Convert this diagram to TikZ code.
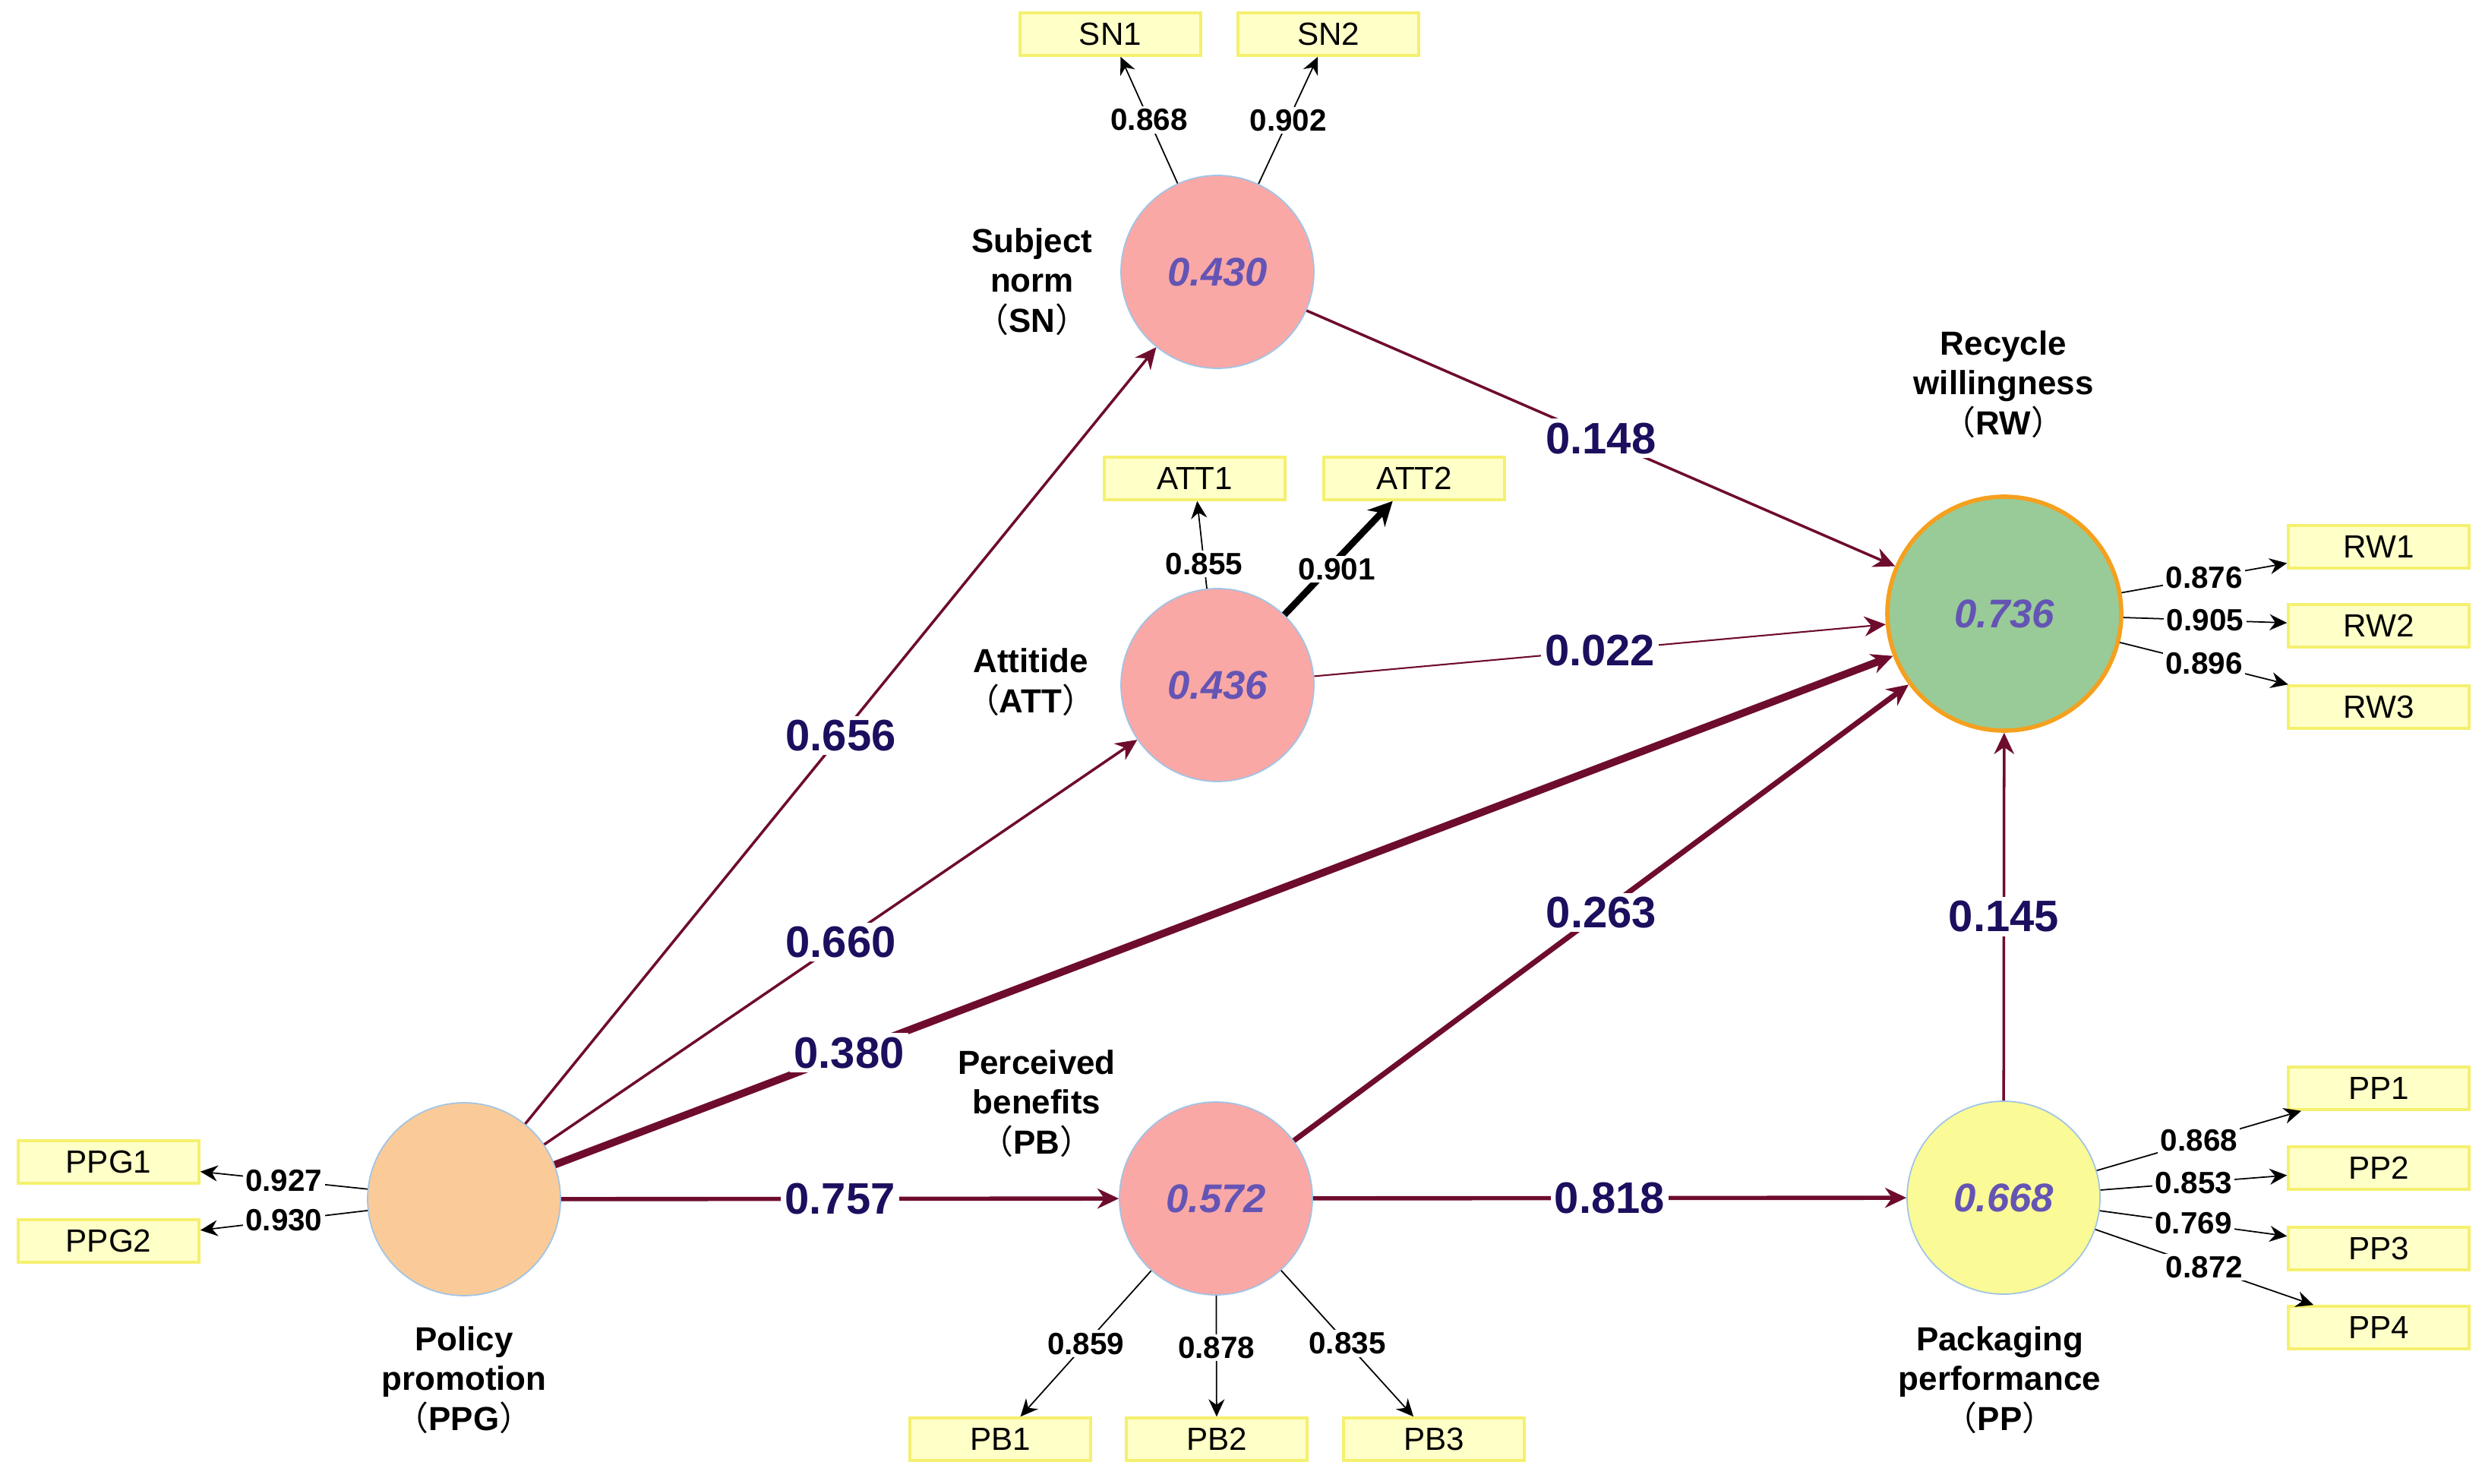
\documentclass[tikz,border=0pt]{standalone}
\usepackage{fontspec}
\setmainfont{Liberation Sans}
\newfontfamily\cjk{Noto Sans CJK SC}
\usetikzlibrary{arrows.meta, positioning}
\definecolor{pathred}{RGB}{110,12,45}
\definecolor{coefblue}{RGB}{27,15,94}
\definecolor{rsqblue}{RGB}{100,84,180}
\definecolor{pinkfill}{RGB}{249,168,166}
\definecolor{peachfill}{RGB}{250,203,152}
\definecolor{greenfill}{RGB}{152,203,152}
\definecolor{lemonfill}{RGB}{250,250,150}
\definecolor{rimblue}{RGB}{160,196,230}
\definecolor{rimorange}{RGB}{245,160,30}
\definecolor{boxfill}{RGB}{255,255,200}
\definecolor{boxline}{RGB}{245,240,110}
\newcommand{\shortname}[1]{{\cjk\mdseries （}\textbf{#1}{\cjk\mdseries ）}}
\tikzset{
latent/.style={circle, draw=rimblue, line width=0.5pt, minimum size=2.54cm, inner sep=0pt, text=rsqblue, font=\fontsize{15}{18}\selectfont\bfseries\itshape}, % constructs
indicator/.style={rectangle, draw=boxline, fill=boxfill, line width=1pt, minimum width=2.38cm, minimum height=0.56cm, inner sep=0pt, font=\fontsize{12}{14}\selectfont}, % measured items
conlabel/.style={align=center, font=\fontsize{12.5}{15}\selectfont\bfseries}, % construct names
effect/.style={draw=pathred, -{Stealth[length=8pt, width=7.5pt]}}, % structural paths
coef/.style={fill=white, inner sep=1.5pt, text=coefblue, font=\fontsize{16.5}{18}\selectfont\bfseries},
loading/.style={draw=black, line width=0.5pt, -{Stealth[length=6.5pt, width=6pt]}}, % outer loadings
loadval/.style={fill=white, inner sep=1pt, font=\fontsize{11.5}{13}\selectfont\bfseries},
}

\begin{document}
\begin{tikzpicture}
  \useasboundingbox (0,0) rectangle (32.68,19.53);

  % constructs
  \node[latent, fill=peachfill] (PPG) at (6.11,3.74) {};
  \node[latent, fill=pinkfill] (SN) at (16.03,15.95) {0.430};
  \node[latent, fill=pinkfill] (ATT) at (16.03,10.51) {0.436};
  \node[latent, fill=pinkfill] (PB) at (16.01,3.75) {0.572};
  \node[latent, fill=lemonfill] (PP) at (26.38,3.76) {0.668};
  \node[latent, fill=greenfill, draw=rimorange, line width=1.6pt, minimum size=3.08cm] (RW) at (26.39,11.45) {0.736};

  \node[conlabel] (PPGname) at (6.11,1.36) {Policy\\promotion\\\shortname{PPG}};
  \node[conlabel] (SNname) at (13.59,15.82) {Subject\\norm\\\shortname{SN}};
  \node[conlabel] (ATTname) at (13.57,10.55) {Attitide\\\shortname{ATT}};
  \node[conlabel] (PBname) at (13.65,5.00) {Perceived\\benefits\\\shortname{PB}};
  \node[conlabel] (PPname) at (26.33,1.36) {Packaging\\performance\\\shortname{PP}};
  \node[conlabel] (RWname) at (26.38,14.47) {Recycle\\willingness\\\shortname{RW}};

  % indicators
  \node[indicator] (PPG1) at (1.43,4.23) {PPG1};
  \node[indicator] (PPG2) at (1.43,3.19) {PPG2};
  \node[indicator] (SN1) at (14.62,19.08) {SN1};
  \node[indicator] (SN2) at (17.49,19.08) {SN2};
  \node[indicator] (ATT1) at (15.73,13.23) {ATT1};
  \node[indicator] (ATT2) at (18.62,13.23) {ATT2};
  \node[indicator] (PB1) at (13.17,0.58) {PB1};
  \node[indicator] (PB2) at (16.02,0.58) {PB2};
  \node[indicator] (PB3) at (18.88,0.58) {PB3};
  \node[indicator] (RW1) at (31.32,12.33) {RW1};
  \node[indicator] (RW2) at (31.32,11.29) {RW2};
  \node[indicator] (RW3) at (31.32,10.22) {RW3};
  \node[indicator] (PP1) at (31.32,5.20) {PP1};
  \node[indicator] (PP2) at (31.32,4.15) {PP2};
  \node[indicator] (PP3) at (31.32,3.09) {PP3};
  \node[indicator] (PP4) at (31.32,2.05) {PP4};

  % structural model
  \draw (PPG) edge[effect, line width=1pt] node[coef]{0.656} (SN)
  (PPG) edge[effect, line width=1pt] node[coef]{0.660} (ATT)
  (PPG) edge[effect, line width=2.8pt] node[coef, pos=0.22]{0.380} (RW)
  (PPG) edge[effect, line width=1.6pt] node[coef]{0.757} (PB)
  (SN) edge[effect, line width=1pt] node[coef]{0.148} (RW)
  (ATT) edge[effect, line width=0.6pt] node[coef]{0.022} (RW)
  (PB) edge[effect, line width=2pt] node[coef]{0.263} (RW)
  (PB) edge[effect, line width=1.6pt] node[coef]{0.818} (PP)
  (PP) edge[effect, line width=1pt] node[coef]{0.145} (RW);

  % measurement model
  \draw (PPG) edge[loading] node[loadval]{0.927} (PPG1)
  (PPG) edge[loading] node[loadval]{0.930} (PPG2)
  (SN) edge[loading] node[loadval]{0.868} (SN1)
  (SN) edge[loading] node[loadval]{0.902} (SN2)
  (ATT) edge[loading] node[loadval, pos=0.28]{0.855} (ATT1)
  (ATT) edge[loading, line width=2.5pt, -{Stealth[length=9pt, width=9pt]}] node[loadval, pos=0.4, xshift=0.12cm]{0.901} (ATT2)
  (PB) edge[loading] node[loadval]{0.859} (PB1)
  (PB) edge[loading] node[loadval, pos=0.43]{0.878} (PB2)
  (PB) edge[loading] node[loadval]{0.835} (PB3)
  (RW) edge[loading] node[loadval]{0.876} (RW1)
  (RW) edge[loading] node[loadval]{0.905} (RW2)
  (RW) edge[loading] node[loadval]{0.896} (RW3)
  (PP) edge[loading] node[loadval]{0.868} (PP1)
  (PP) edge[loading] node[loadval]{0.853} (PP2)
  (PP) edge[loading] node[loadval]{0.769} (PP3)
  (PP) edge[loading] node[loadval]{0.872} (PP4);

\end{tikzpicture}
\end{document}
